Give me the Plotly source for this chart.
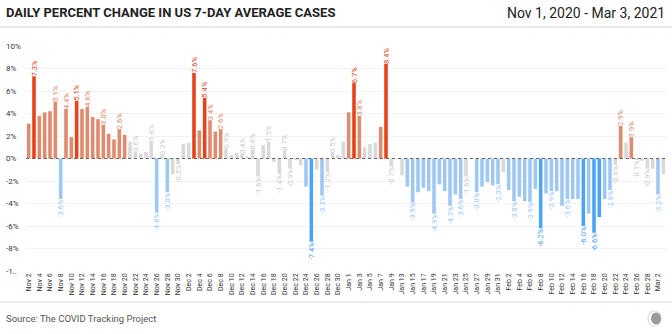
import pandas as pd
import plotly.graph_objects as go

# Daily percent change in the 7-day average of new US cases
all_days = pd.date_range("2020-11-02", "2021-03-03")
days = [d for d in all_days if d not in (pd.Timestamp("2021-01-11"), pd.Timestamp("2021-01-12"))]
dates = [f"{d:%b} {d.day}" for d in days]

pct_change = [
    3.1, 7.3, 3.8, 4.1, 4.2, 5.06, -3.6, 4.4, 1.9, 5.13,
    4.4, 4.6, 3.7, 3.5, 3.0, 2.2, 1.7, 2.6, 2.1, 1.5,
    0.6, 0.4, 0.6, 1.6, -4.8, 0.3, -3.0, -1.4, -0.5, 1.3,
    1.4, 7.6, 2.5, 5.4, 3.4, 2.4, 2.6, 0.9, 0.3, 0.5,
    0.4, 0.2, 0.8, -1.6, 1.2, 1.5, -0.3, -1.4, 0.7, -0.9,
    -0.1, -0.6, -2.5, -7.4, -1.0, -3.3, -1.2, 0.5, 0.3, 1.5,
    4.1, 6.7, 3.8, 1.0, 1.3, 1.4, 2.8, 8.4, -0.7, None,
    -1.5, -2.5, -3.9, -3.0, -2.6, -2.9, -4.9, -2.3, -2.9, -4.2,
    -3.2, -3.6, -1.6, None, -3.0, -2.5, -2.1, -2.4, -2.3, -1.2,
    -2.8, -3.8, -3.4, -3.8, -3.9, -2.7, -6.2, -3.1, -2.9, -2.9,
    -4.2, -3.6, -3.6, -3.6, -6.0, -4.9, -6.6, -5.2, -3.6, -2.8,
    -0.6, 2.9, 1.4, 1.9, -0.1, -0.2, -0.9, -0.9, -3.2, -1.4,
]

# Days whose value is printed next to the bar
labeled_dates = [
    "Nov 3", "Nov 7", "Nov 8", "Nov 9", "Nov 11", "Nov 13", "Nov 16", "Nov 19",
    "Nov 22", "Nov 25", "Nov 26", "Nov 27", "Nov 28", "Nov 30", "Dec 3", "Dec 5",
    "Dec 6", "Dec 8", "Dec 9", "Dec 12", "Dec 14", "Dec 15", "Dec 17", "Dec 19",
    "Dec 20", "Dec 21", "Dec 25", "Dec 27", "Dec 28", "Dec 29", "Jan 2", "Jan 3",
    "Jan 8", "Jan 9", "Jan 15", "Jan 19", "Jan 22", "Jan 24", "Jan 25", "Jan 27",
    "Jan 31", "Feb 3", "Feb 6", "Feb 8", "Feb 10", "Feb 13", "Feb 16", "Feb 18",
    "Feb 21", "Feb 22", "Feb 23", "Feb 25", "Feb 26", "Feb 28", "Mar 2",
]

y_ticks = [10, 8, 6, 4, 2, 0, -2, -4, -6, -8, -10]
y_tick_text = ["10%", "8%", "6%", "4%", "2%", "0%", "-2%", "-4%", "-6%", "-8%", "-1.."]

STRONG_UP, UP, FLAT, DOWN, STRONG_DOWN = "#e6431d", "#e08a6e", "#d9d9d9", "#9ec8f1", "#4ba4f6"


def bucket(v):
    if v is None:
        return FLAT
    if v >= 5.1:
        return STRONG_UP
    if v >= 1.65:
        return UP
    if v > -1.65:
        return FLAT
    if v > -5.0:
        return DOWN
    return STRONG_DOWN


colors = [bucket(v) for v in pct_change]
label_set = set(labeled_dates)
texts = [f"{v:.1f}%" if (d in label_set and v is not None) else "" for d, v in zip(dates, pct_change)]
text_colors = ["#cccccc" if c == FLAT else c for c in colors]

W, H = 672, 334
L, R, T, B = 26, 6, 46, 63
PW, PH = W - L - R, H - T - B


def px_x(x):
    return (x - L) / PW


def px_y(y):
    return (H - B - y) / PH


fig = go.Figure(
    go.Bar(
        x=dates,
        y=pct_change,
        marker=dict(color=colors, line=dict(width=0)),
        text=texts,
        textposition="outside",
        textangle=-90,
        constraintext="none",
        cliponaxis=False,
        textfont=dict(family="Roboto", size=7.5, color=text_colors),
        hoverinfo="x+y",
    )
)

annotations = [
    dict(text="<b>DAILY PERCENT CHANGE IN US 7-DAY AVERAGE CASES</b>", xref="paper", yref="paper",
         x=px_x(4), y=px_y(13), xanchor="left", yanchor="middle", showarrow=False,
         font=dict(family="Roboto", size=13, color="#222222")),
    dict(text="Nov 1, 2020 - Mar 3, 2021", xref="paper", yref="paper",
         x=px_x(667), y=px_y(13), xanchor="right", yanchor="middle", showarrow=False,
         font=dict(family="Roboto", size=14, color="#222222")),
    dict(text="Source: The COVID Tracking Project", xref="paper", yref="paper",
         x=px_x(4), y=px_y(318), xanchor="left", yanchor="middle", showarrow=False,
         font=dict(family="Roboto", size=9.5, color="#555555")),
]
for v, t in zip(y_ticks, y_tick_text):
    annotations.append(dict(text=t, xref="paper", yref="y", x=px_x(4), y=v, xanchor="left",
                            yanchor="middle", showarrow=False,
                            font=dict(family="Roboto", size=8, color="#333333")))

shapes = [
    dict(type="line", xref="paper", yref="y", x0=0, x1=1, y0=0, y1=0,
         line=dict(color="#666666", width=1, dash="dot")),
    dict(type="line", xref="paper", yref="paper", x0=px_x(0), x1=px_x(W), y0=px_y(27), y1=px_y(27),
         line=dict(color="#e3e3e3", width=1.5)),
    dict(type="line", xref="paper", yref="paper", x0=px_x(0), x1=px_x(W), y0=px_y(302), y1=px_y(302),
         line=dict(color="#e3e3e3", width=1.5)),
    # logo mark
    dict(type="circle", xref="paper", yref="paper", x0=px_x(648), x1=px_x(661), y0=px_y(311), y1=px_y(326),
         line=dict(color="#dddddd", width=1.2), fillcolor="rgba(0,0,0,0)"),
    dict(type="circle", xref="paper", yref="paper", x0=px_x(651), x1=px_x(661), y0=px_y(312.5), y1=px_y(324.5),
         line=dict(width=0), fillcolor="#9a9a9a"),
]

fig.update_layout(
    width=W, height=H,
    margin=dict(l=L, r=R, t=T, b=B),
    paper_bgcolor="white", plot_bgcolor="white",
    bargap=0.33,
    showlegend=False,
    annotations=annotations,
    shapes=shapes,
    font=dict(family="Roboto", color="#333333"),
)
fig.update_xaxes(
    type="category", categoryorder="array", categoryarray=dates,
    range=[-0.5, len(dates) - 0.5],
    tickmode="array", tickvals=dates[::2], ticktext=dates[::2],
    tickangle=-90, tickfont=dict(family="Roboto", size=7, color="#333333"),
    showgrid=False, zeroline=False, showline=False, ticks="",
)
fig.update_yaxes(
    range=[-10, 10], tickvals=y_ticks, showticklabels=False,
    showgrid=True, gridcolor="#f2f2f2", gridwidth=1, zeroline=False, showline=False,
)

fig.write_html("out.html")
